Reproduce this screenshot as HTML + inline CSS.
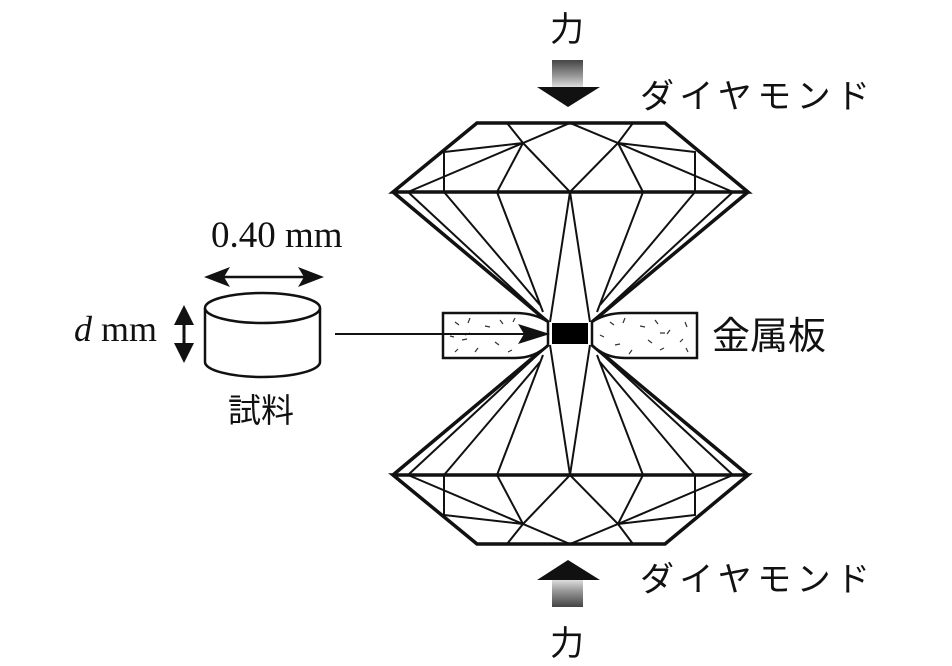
<!DOCTYPE html>
<html><head><meta charset="utf-8"><style>
html,body{margin:0;padding:0;background:#fff;}
svg{display:block;}
text{font-family:"Liberation Serif","Noto Serif CJK SC",serif;fill:#111;}
.jp{font-family:"Liberation Sans","Noto Sans CJK JP",sans-serif;}
</style></head><body>
<svg width="952" height="666" viewBox="0 0 952 666" xmlns="http://www.w3.org/2000/svg">
<defs>
<linearGradient id="g" x1="0" y1="0" x2="0" y2="1">
<stop offset="0" stop-color="#444"/><stop offset="0.6" stop-color="#999"/><stop offset="1" stop-color="#ddd"/>
</linearGradient>
<linearGradient id="g2" x1="0" y1="1" x2="0" y2="0">
<stop offset="0" stop-color="#444"/><stop offset="0.6" stop-color="#999"/><stop offset="1" stop-color="#ddd"/>
</linearGradient>
<g id="dia" fill="none" stroke="#111" stroke-linejoin="miter">
<path d="M477,123 L665,123 L748,192 L393,192 Z" stroke-width="3.5"/>
<path d="M393,192 L548,322 M748,192 L592,322" stroke-width="3.5"/>
<g stroke-width="2">
<path d="M507,123 L523,143 L570,123 L618,143 L633,123"/>
<path d="M523,143 L570,192 L618,143"/>
<path d="M523,143 L497,192 M618,143 L643,192"/>
<path d="M523,143 L444,152 L444,192 M523,143 L408,192"/>
<path d="M618,143 L695,152 L695,192 M618,143 L733,192"/>
<path d="M408,192 L548,322 M444,192 L540,305 M497,192 L543,312 M570,192 L550,322 M570,192 L590,322 M643,192 L597,312 M695,192 L600,305 M733,192 L592,322"/>
</g>
</g>
</defs>
<use href="#dia"/>
<use href="#dia" transform="translate(0,667) scale(1,-1)"/>
<!-- metal plate -->
<path d="M443,313 L515,313 Q535,313 548,322 L548,345 Q535,358 515,358 L443,358 Z" fill="#fff" stroke="#111" stroke-width="2.5"/>
<path d="M697,313 L625,313 Q605,313 592,322 L592,345 Q605,358 625,358 L697,358 Z" fill="#fff" stroke="#111" stroke-width="2.5"/>
<g stroke="#333" stroke-width="1.2">
<path d="M455,322 l4,3 M470,318 l-2,5 M485,326 l5,1 M500,320 l3,4 M462,340 l5,-1 M478,348 l-3,4 M495,342 l4,3 M512,350 l-4,2 M455,352 l3,-3 M525,328 l3,3 M470,333 l-5,2 M515,318 l-2,4 M450,336 l4,1"/>
<path d="M610,322 l4,3 M625,318 l-2,5 M640,326 l5,1 M655,320 l3,4 M670,330 l-3,4 M685,322 l2,5 M615,345 l5,-1 M632,350 l-3,4 M648,340 l4,3 M664,348 l-4,2 M680,342 l3,-3 M600,335 l4,2 M688,352 l-2,-4 M660,333 l5,0"/>
</g>
<rect x="552" y="323" width="36" height="21" fill="#000"/>
<!-- connector -->
<line x1="335" y1="334" x2="530" y2="334" stroke="#111" stroke-width="2"/>
<path d="M518,324 L550,334 L518,344 L524,334 Z" fill="#111"/>
<!-- force arrows -->
<rect x="552" y="60" width="31" height="27" fill="url(#g)"/>
<path d="M537,87 L600,87 L568,107 Z" fill="#111"/>
<rect x="552" y="580" width="31" height="27" fill="url(#g2)"/>
<path d="M537,580 L600,580 L568,560 Z" fill="#111"/>
<text x="567" y="41" font-size="34" text-anchor="middle" class="jp">力</text>
<text x="567" y="655" font-size="34" text-anchor="middle" class="jp">力</text>
<text x="640" y="108" font-size="34" class="jp" textLength="230">ダイヤモンド</text>
<text x="640" y="591" font-size="34" class="jp" textLength="230">ダイヤモンド</text>
<text x="712" y="349" font-size="38" class="jp">金属板</text>
<!-- cylinder -->
<path d="M205,308 L205,362 A57.5,15 0 0 0 320,362 L320,308" fill="#fff" stroke="#111" stroke-width="2.5"/>
<ellipse cx="262.5" cy="308" rx="57.5" ry="15" fill="#fff" stroke="#111" stroke-width="2.5"/>
<line x1="215" y1="277" x2="312" y2="277" stroke="#111" stroke-width="2.5"/>
<path d="M204,277 L230,267 L224,277 L230,287 Z M324,277 L298,267 L304,277 L298,287 Z" fill="#111"/>
<line x1="184" y1="315" x2="184" y2="353" stroke="#111" stroke-width="3"/>
<path d="M184,305 L174,325 L194,325 Z M184,363 L174,343 L194,343 Z" fill="#111"/>
<text x="211" y="247" font-size="37">0.40 mm</text>
<text x="74" y="341" font-size="36"><tspan font-style="italic">d</tspan> mm</text>
<text x="228" y="422" font-size="33" class="jp">試料</text>
</svg>
</body></html>
